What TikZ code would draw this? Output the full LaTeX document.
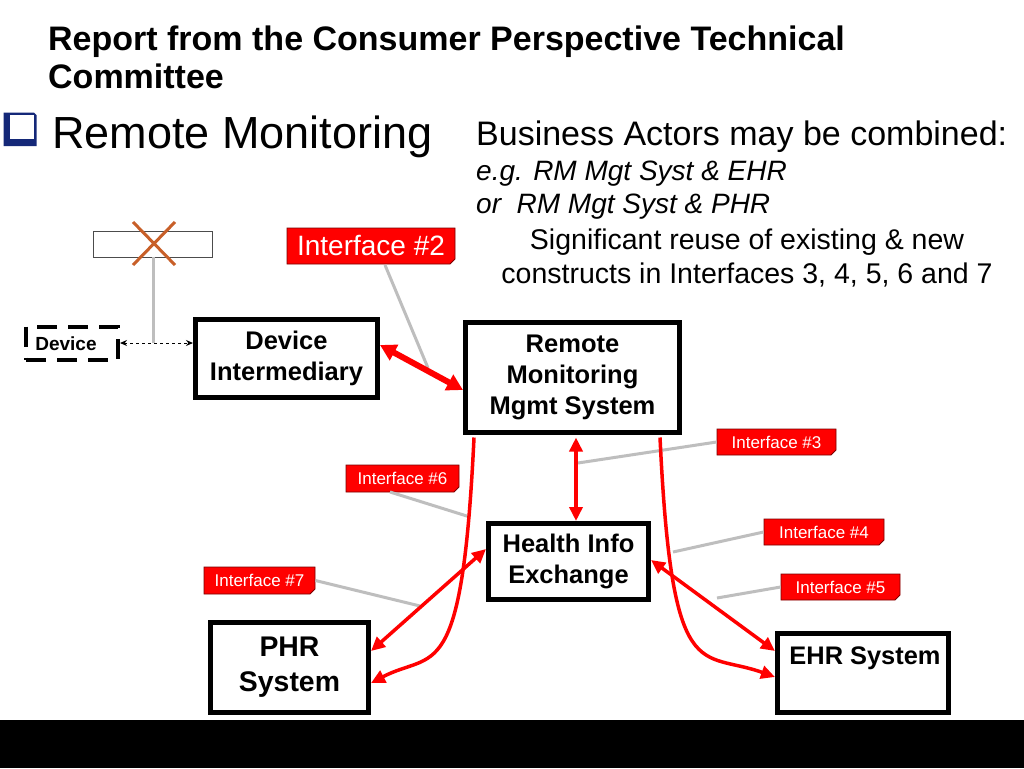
\documentclass[tikz,border=0pt]{standalone}
\usepackage{fontspec}
\setmainfont{Liberation Sans}
\usetikzlibrary{arrows.meta,shapes.misc}
\definecolor{ired}{RGB}{255,0,0}
\definecolor{idark}{RGB}{120,0,0}
\definecolor{lgray}{RGB}{190,190,190}
\definecolor{xorange}{RGB}{200,95,40}
\definecolor{navy}{RGB}{20,40,120}
\tikzset{
  box/.style={draw=black, line width=5pt, fill=white, inner sep=0pt, align=center,
    font=\fontsize{25.5}{31}\selectfont\bfseries},
  iface/.style={chamfered rectangle, chamfered rectangle corners=south east,
    chamfered rectangle xsep=2.5pt, chamfered rectangle ysep=2.5pt,
    fill=ired, draw=idark, line width=0.8pt, text=white, inner sep=0pt,
    font=\fontsize{17}{19}\selectfont},
  callout/.style={draw=lgray, line width=3pt},
  redarr/.style={draw=ired, line width=3.5pt, {Triangle[length=14pt,width=13pt]}-{Triangle[length=14pt,width=13pt]}},
  redone/.style={draw=ired, line width=3.5pt, -{Triangle[length=14pt,width=13pt]}},
  txt/.style={inner sep=0pt}
}
\begin{document}
\begin{tikzpicture}[x=1pt,y=-1pt]
\useasboundingbox (0,0) rectangle (1024,768);
\fill[white] (0,0) rectangle (1024,768);
\fill[black] (0,720) rectangle (1024,768);

% title
\node[txt,anchor=base west,font=\fontsize{34}{38}\selectfont\bfseries] (t1) at (48,50) {Report from the Consumer Perspective Technical};
\node[txt,anchor=base west,font=\fontsize{34}{38}\selectfont\bfseries] (t2) at (48,88) {Committee};

% bullet
\fill[navy] (3.5,112.5) -- (34,112.5) -- (36.5,115) -- (36.5,146) -- (3.5,146) -- cycle;
\fill[white] (10,114.5) rectangle (33.5,139);
\node[txt,anchor=base west,font=\fontsize{45}{50}\selectfont] (rm) at (52,148) {Remote Monitoring};

\node[txt,anchor=base west,font=\fontsize{34}{38}\selectfont] (ba) at (476,145) {Business Actors may be combined:};
\node[txt,anchor=base west,font=\fontsize{28}{32}\selectfont\itshape] (eg) at (476,180) {e.g. RM Mgt Syst \& EHR};
\node[txt,anchor=base west,font=\fontsize{28}{32}\selectfont\itshape] (or) at (476,213) {or\ \ RM Mgt Syst \& PHR};
\node[txt,anchor=base,font=\fontsize{28.5}{32}\selectfont] (s1) at (747,249) {Significant reuse of existing \& new};
\node[txt,anchor=base,font=\fontsize{28.5}{32}\selectfont] (s2) at (747,283) {constructs in Interfaces 3, 4, 5, 6 and 7};

% crossed box
\node[draw=black!70, line width=0.8pt, fill=white, chamfered rectangle, chamfered rectangle corners=south east,
  chamfered rectangle xsep=2.5pt, chamfered rectangle ysep=2.5pt,
  minimum width=119pt, minimum height=26pt, inner sep=0pt] (cb) at (152.5,244) {};
\draw[xorange, line width=3pt] (133,222) -- (175,265) (175,222) -- (133,265);
\coordinate (jn) at (153,343);
\draw[callout] (cb.south -| jn) -- (jn);

% device
\node[draw=black, line width=4pt, dash pattern=on 20pt off 11pt, minimum width=92pt, minimum height=33pt,
  inner sep=0pt] (dev) at (72,343) {};
\node[txt,anchor=base,font=\fontsize{19}{20}\selectfont\bfseries] (devt) at (66,350) {Device};

% boxes
\node[box, minimum width=182pt, minimum height=78pt] (di) at (286.5,358.5) {Device\\Intermediary};
\node[box, minimum width=214pt, minimum height=110pt] (rmms) at (572.5,377.5) {Remote\\Monitoring\\Mgmt System};
\node[box, minimum width=160pt, minimum height=76pt] (hie) at (568.5,561.5) {Health Info\\Exchange};
\node[box, minimum width=158pt, minimum height=90pt, font=\fontsize{28.4}{35}\selectfont\bfseries] (phr) at (289.5,667.5) {PHR\\System};
\node[box, minimum width=171pt, minimum height=79pt] (ehr) at (863,673) {};
\node[txt,anchor=base,font=\fontsize{25.4}{30}\selectfont\bfseries] (ehrt) at (865,664) {EHR System};

% device dashed arrow
\draw[black, line width=1pt, dashed, {Stealth[length=7pt,width=6pt]}-{Stealth[length=7pt,width=6pt]}] (dev.east) -- (di.west |- dev.east);

% interface labels
\node[iface, minimum width=168pt, minimum height=36pt, font=\fontsize{28}{30}\selectfont] (if2) at (371,246) {Interface \#2};
\node[iface, minimum width=119pt, minimum height=26pt] (if3) at (776.5,442) {Interface \#3};
\node[iface, minimum width=113pt, minimum height=27pt] (if6) at (402.5,478.5) {Interface \#6};
\node[iface, minimum width=120pt, minimum height=26pt] (if4) at (824,532) {Interface \#4};
\node[iface, minimum width=119pt, minimum height=26pt] (if5) at (840.5,587) {Interface \#5};
\node[iface, minimum width=111pt, minimum height=27pt] (if7) at (259.5,580.5) {Interface \#7};

% callout lines
\coordinate (c2) at (428,368);
\coordinate (c3) at (578,463);
\coordinate (c6) at (470,517);
\coordinate (c4) at (673,552);
\coordinate (c5) at (717,598);
\coordinate (c7) at (420,606);
\draw[callout] (385,265) -- (c2);
\draw[callout] (if3.west) -- (c3);
\draw[callout] (390,492) -- (c6);
\draw[callout] (if4.west) -- (c4);
\draw[callout] (if5.west) -- (c5);
\draw[callout] (if7.east) -- (c7);

% red connectors
\draw[redarr, line width=6pt, {Triangle[length=16pt,width=17pt]}-{Triangle[length=16pt,width=17pt]}] (di.east |- 0,345) -- (rmms.west |- 0,390);
\draw[redarr] (576,437.5) -- (hie.north -| 576,0);
\draw[redarr] (hie.west |- 0,549) -- (phr.east |- 0,651);
\draw[redarr] (hie.east |- 0,560) -- (ehr.west |- 0,651);
\draw[redone] (474,437.5) .. controls (462,690) and (434,650) .. (phr.east |- 0,683);
\draw[redone] (660,437.5) .. controls (672,690) and (700,650) .. (ehr.west |- 0,677);
\end{tikzpicture}
\end{document}
